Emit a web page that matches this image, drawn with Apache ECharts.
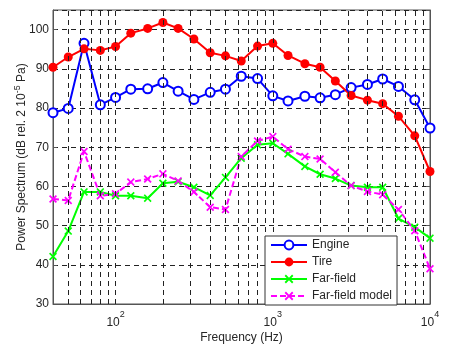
<!DOCTYPE html>
<html>
<head>
<meta charset="utf-8">
<script src="https://cdn.jsdelivr.net/npm/echarts@6/dist/echarts.min.js"></script>
<style>html,body{margin:0;padding:0;background:#fff}#c{width:450px;height:354px}</style>
</head>
<body>
<div id="c"></div>
<script>
var freqs = [40, 50, 63, 80, 100, 125, 160, 200, 250, 315, 400, 500, 630, 800, 1000, 1250, 1600, 2000, 2500, 3150, 4000, 5000, 6300, 8000, 10000];
var engine = [78.8, 79.9, 96.5, 80.8, 82.7, 84.8, 84.9, 86.5, 84.3, 82.2, 84.0, 84.8, 88.1, 87.5, 83.1, 81.8, 83.0, 82.6, 83.4, 85.2, 86.0, 87.4, 85.5, 82.1, 74.9];
var tire = [90.4, 93.0, 95.1, 94.7, 95.7, 99.1, 100.3, 101.8, 100.3, 97.6, 94.1, 93.3, 92.0, 95.8, 96.5, 93.4, 91.3, 90.4, 86.9, 83.2, 82.0, 81.1, 77.9, 72.9, 63.8];
var farField = [42.1, 48.6, 58.6, 58.6, 57.6, 57.6, 57.0, 60.8, 61.2, 59.8, 57.7, 62.3, 67.2, 70.6, 71.0, 68.3, 65.1, 63.1, 62.0, 60.2, 59.8, 59.8, 51.8, 49.6, 46.8];
var farFieldModel = [56.8, 56.4, 68.9, 57.6, 58.1, 61.1, 61.9, 63.2, 61.4, 58.6, 54.7, 54.1, 67.6, 71.6, 72.7, 69.5, 67.6, 67.0, 63.6, 60.2, 58.7, 57.9, 54.1, 48.7, 39.0];
var xGridValues = [50, 60, 70, 80, 90, 100, 200, 300, 400, 500, 600, 700, 800, 900, 1000, 2000, 3000, 4000, 5000, 6000, 7000, 8000, 9000];
var yTicks = [30, 40, 50, 60, 70, 80, 90, 100];

function pairs(ys) { return freqs.map(function (f, i) { return [f, ys[i]]; }); }

var xMark = 'path://M1.5,0 L5,3.5 L8.5,0 L10,1.5 L6.5,5 L10,8.5 L8.5,10 L5,6.5 L1.5,10 L0,8.5 L3.5,5 L0,1.5 Z';
var font = 'Liberation Sans, Arial, sans-serif';
var txt = '#262626';

var chart = echarts.init(document.getElementById('c'), null, {renderer: 'canvas'});
chart.setOption({
  animation: false,
  backgroundColor: '#fff',
  textStyle: {fontFamily: font},
  grid: {left: 53, right: 20, top: 10, bottom: 50, containLabel: false, outerBoundsMode: 'none',
    show: true, borderColor: '#555', borderWidth: 1, backgroundColor: 'transparent'},
  legend: {
    orient: 'vertical', left: 265, top: 236, z: 20, zlevel: 1,
    data: ['Engine', 'Tire', 'Far-field', 'Far-field model'],
    itemWidth: 36, itemHeight: 11, itemGap: 5,
    padding: [3, 5, 3, 5],
    backgroundColor: '#ffffff', borderColor: '#333', borderWidth: 1, borderRadius: 0,
    textStyle: {fontFamily: font, fontSize: 12, color: txt},
    selectedMode: false
  },
  xAxis: {
    type: 'log', logBase: 10, min: 40, max: 10000,
    name: 'Frequency (Hz)', nameLocation: 'middle', nameGap: 28, nameMoveOverlap: false,
    nameTextStyle: {fontFamily: font, fontSize: 12, color: txt},
    axisLine: {lineStyle: {color: '#555'}},
    axisTick: {show: false},
    splitLine: {show: false},
    axisLabel: {
      color: txt, margin: 6,
      formatter: function (v) {
        var e = Math.round(Math.log(v) / Math.LN10);
        if (Math.abs(Math.pow(10, e) - v) > 1e-6 * v) return '';
        return '{b|10}{s|' + e + '}';
      },
      rich: {
        b: {fontFamily: font, fontSize: 12, color: txt, verticalAlign: 'bottom'},
        s: {fontFamily: font, fontSize: 9, color: txt, verticalAlign: 'bottom', padding: [0, 0, 10, 0]}
      }
    }
  },
  yAxis: [{
    type: 'value', min: 30, max: 105, interval: 10,
    name: '{b|Power Spectrum (dB rel. 2 10}{s|-5}{b| Pa)}', nameLocation: 'middle', nameGap: 25, nameRotate: 90,
    nameMoveOverlap: false,
    nameTextStyle: {
      fontFamily: font, fontSize: 12, color: txt,
      rich: {
        b: {fontFamily: font, fontSize: 12, color: txt, verticalAlign: 'bottom'},
        s: {fontFamily: font, fontSize: 9, color: txt, verticalAlign: 'bottom', padding: [0, 0, 6, 0]}
      }
    },
    axisLine: {show: true, lineStyle: {color: '#555'}},
    axisTick: {show: true, inside: true, length: 4, lineStyle: {color: '#555'}},
    axisLabel: {color: txt, fontSize: 12, fontFamily: font, margin: 4,
      formatter: function (v) { return yTicks.indexOf(v) >= 0 ? String(v) : ''; }},
    splitLine: {show: true, lineStyle: {color: '#222', type: [5, 4], width: 1}}
  }, {
    type: 'value', min: 30, max: 105, interval: 10, position: 'right',
    axisLine: {show: true, lineStyle: {color: '#555'}},
    axisTick: {show: true, inside: true, length: 4, lineStyle: {color: '#555'}},
    axisLabel: {show: false}, splitLine: {show: false}
  }],
  series: [
    {
      name: '_grid', type: 'line', data: [], z: 1, silent: true, showSymbol: false,
      markLine: {
        silent: true, symbol: ['none', 'none'], label: {show: false}, animation: false,
        lineStyle: {color: '#222', type: [5, 4], width: 1},
        emphasis: {disabled: true},
        data: xGridValues.map(function (v) { return {xAxis: v}; })
      }
    },
    {
      name: 'Engine', type: 'line', data: pairs(engine), z: 3,
      symbol: 'emptyCircle', symbolSize: 9, showAllSymbol: true,
      lineStyle: {color: '#0000ff', width: 2}, itemStyle: {color: '#0000ff', borderWidth: 2}
    },
    {
      name: 'Tire', type: 'line', data: pairs(tire), z: 3,
      symbol: 'circle', symbolSize: 9, showAllSymbol: true,
      lineStyle: {color: '#ff0000', width: 2}, itemStyle: {color: '#ff0000'}
    },
    {
      name: 'Far-field', type: 'line', data: pairs(farField), z: 3,
      symbol: xMark, symbolSize: 8, showAllSymbol: true,
      lineStyle: {color: '#00ff00', width: 2}, itemStyle: {color: '#00ff00'}
    },
    {
      name: 'Far-field model', type: 'line', data: pairs(farFieldModel), z: 3,
      symbol: xMark, symbolSize: 8, showAllSymbol: true,
      lineStyle: {color: '#ff00ff', width: 2, type: [6, 3]}, itemStyle: {color: '#ff00ff'}
    }
  ]
});
</script>
</body>
</html>
